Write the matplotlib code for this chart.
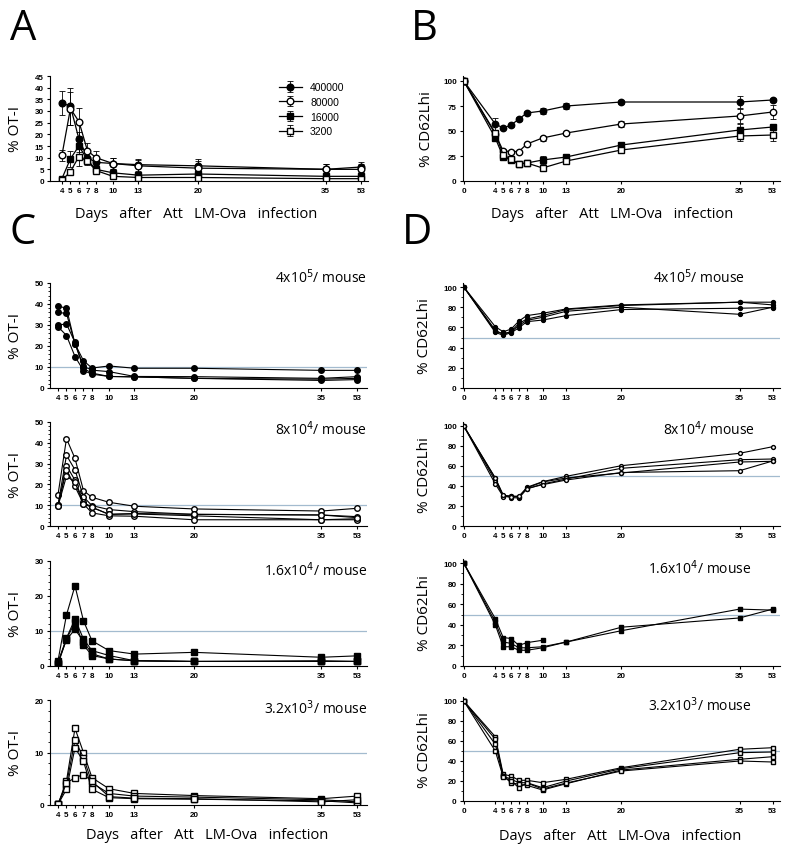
import numpy as np
import matplotlib.pyplot as plt
from matplotlib.ticker import AutoMinorLocator

plt.rcParams['font.family'] = ['Liberation Sans', 'DejaVu Sans']
plt.rcParams['axes.linewidth'] = 0.8
plt.rcParams['xtick.major.size'] = 2.5
plt.rcParams['ytick.major.size'] = 2.5
plt.rcParams['xtick.major.pad'] = 2
plt.rcParams['ytick.major.pad'] = 2
plt.rcParams['xtick.major.width'] = 0.8
plt.rcParams['ytick.major.width'] = 0.8

soft = ['Open Sans', 'DejaVu Sans']

days = [4, 5, 6, 7, 8, 10, 13, 20, 35, 53]
days0 = [0, 4, 5, 6, 7, 8, 10, 13, 20, 35, 53]
doses = ['400000', '80000', '16000', '3200']

# panel A : % OT-I, mean and sem
a_400000 = [33.5, 32, 18, 10, 8, 7.5, 7, 6.5, 5, 6]
a_400000_err = [5, 8, 3, 2, 2, 2.5, 2.5, 3, 2.5, 2]
a_80000 = [11, 31, 25.5, 13, 10, 7.5, 6.5, 5.5, 5, 5]
a_80000_err = [2.5, 7, 6, 3.5, 3, 2.5, 2.5, 3, 2.5, 2.5]
a_16000 = [1, 9.5, 15, 9, 5, 3.5, 2.5, 3, 2, 2]
a_16000_err = [0.5, 3.5, 2.5, 1.5, 1, 1, 1, 1, 1, 1]
a_3200 = [0.3, 4, 10.5, 8.5, 4.5, 2, 1.5, 1.5, 1, 1]
a_3200_err = [0.3, 1, 4, 1.5, 1, 1, 0.8, 0.8, 0.5, 0.5]

# panel B : % CD62L hi, mean and sem
b_400000 = [100, 57, 53, 56, 62, 68, 70, 75, 79, 79, 81]
b_400000_err = [0, 6, 1, 1.5, 2, 2, 3, 3, 2, 6, 2]
b_80000 = [100, 47, 30, 29.5, 29.5, 37, 43, 48, 57, 65, 69]
b_80000_err = [0, 3, 2, 1, 1, 1, 2.5, 1.5, 3, 7, 7]
b_16000 = [100, 43, 24, 21, 17, 18, 21, 24, 36, 51, 54]
b_16000_err = [0, 3, 3, 2, 2, 2, 4, 2, 2, 6, 2]
b_3200 = [100, 48, 26, 22, 17, 18, 13, 20, 31, 45, 46]
b_3200_err = [0, 3, 3, 2, 2, 2, 3, 2, 2, 5, 6]

# panel C : individual mice, % OT-I
c_4e5 = [[39, 38, 21, 13, 9.5, 10.5, 9.4, 9.4, 8.4, 8.4],
         [36, 35.5, 21, 10.3, 8.5, 7.8, 5.5, 5.4, 4.6, 5.4],
         [30, 30.5, 21.7, 9.3, 7.1, 5.5, 5.3, 4.6, 3.6, 4.0],
         [29.2, 25, 15, 8.3, 6.6, 5.5, 5.3, 4.6, 4.2, 4.6]]
c_8e4 = [[15, 42, 32.5, 17, 13.8, 11.4, 9.5, 8.2, 7.2, 8.5],
         [10, 34, 27, 14, 9.8, 7.9, 6.9, 5.6, 5.3, 4.5],
         [9.5, 29, 22, 11.4, 9, 5.6, 5.8, 4.9, 3.0, 3.5],
         [10, 27, 19, 10.6, 6.3, 4.9, 4.7, 3.0, 3.0, 3.0],
         [9.5, 24, 21, 10.6, 9, 5.6, 6, 5.6, 5.3, 4]]
c_16e3 = [[1.5, 14.6, 22.9, 12.9, 7.2, 4.4, 3.4, 3.9, 2.5, 2.9],
          [1, 8, 13.4, 7.7, 4.4, 3, 1.5, 1.3, 1.3, 1.3],
          [0.5, 7.7, 12.5, 6, 3, 2, 1.5, 1.3, 1.5, 1.3],
          [1, 7.5, 10.5, 7, 3.5, 2, 1.5, 1.3, 1.3, 1.3]]
c_32e2 = [[0.1, 4.6, 14.6, 10, 5.2, 3.1, 2.2, 1.8, 1.2, 1.7],
          [0.1, 3.9, 12.4, 9, 4.2, 2.2, 1.7, 1.5, 1.0, 0.6],
          [0.1, 3.0, 10.9, 8.3, 3.0, 1.4, 1.2, 1.1, 0.8, 0.4],
          [0.1, 4.2, 5.2, 5.8, 4.5, 1.6, 1.3, 1.2, 0.6, 1.0]]

# panel D : individual mice, % CD62L hi
d_4e5 = [[100, 60.7, 55.7, 58.3, 66.3, 71.7, 74, 78.3, 82.3, 85, 85],
         [100, 57.3, 53, 56, 64, 68.3, 71.7, 77.7, 81.7, 85, 82.3],
         [100, 55, 52.3, 54.7, 59.7, 65.7, 67.3, 71.7, 77.7, 79, 79.7],
         [100, 56, 54, 55.5, 62, 67, 70, 76, 80, 73, 80]]
d_8e4 = [[100, 47.7, 30.5, 30, 29, 38.7, 44.3, 49.7, 60.3, 72.7, 79.3],
         [100, 45.3, 30, 28.5, 28, 37, 42, 47, 57.7, 66.3, 67],
         [100, 42, 29.5, 30, 29.5, 38, 44, 48, 53, 64, 64.7],
         [100, 48, 31, 29, 30, 37.5, 41.3, 46, 53.5, 55.3, 65]]
d_16e3 = [[100, 46, 27.7, 26.7, 20, 22.7, 25, np.nan, np.nan, np.nan, np.nan],
          [100, 42.7, 23.3, 22, 17.7, 17.7, 18.7, 23.3, 37.7, 46.7, 55.3],
          [100, 40, 18.7, 18.7, 15.3, 15.3, 17.7, 23.3, 34.3, 55.3, 54.3]]
d_32e2 = [[100, 64.3, 26.7, 25, 20.7, 20.7, 18.3, 21.7, 33.3, 51.7, 53.3],
          [100, 61.7, 25, 21.7, 18.3, 18.3, 13.3, 20, 32.3, 48.3, 49],
          [100, 56.7, 25, 18.3, 16.7, 15.7, 11, 17.3, 31, 41.7, 44.3],
          [100, 50, 24, 20, 13.3, 18, 12, 18, 30, 40, 39]]

c_labels = ['4x10$^5$/ mouse', '8x10$^4$/ mouse', '1.6x10$^4$/ mouse', '3.2x10$^3$/ mouse']
c_ylims = [50, 50, 30, 20]
c_yticks = [[0, 10, 20, 30, 40, 50], [0, 10, 20, 30, 40, 50], [0, 10, 20, 30], [0, 10, 20]]


# time axis is linear up to day 35 and squeezed after
def fwd(x):
    x = np.asarray(x, float)
    return np.where(x <= 35, x, 35 + (x - 35) * 0.233)


def inv(y):
    y = np.asarray(y, float)
    return np.where(y <= 35, y, 35 + (y - 35) / 0.233)


def style(ax, xt, xlim, ylim, yt, ylab, lx):
    ax.set_xscale('function', functions=(fwd, inv))
    ax.set_xlim(xlim)
    ax.set_ylim(ylim)
    ax.set_xticks(xt)
    ax.set_xticklabels([str(d) for d in xt])
    ax.set_yticks(yt)
    ax.xaxis.set_minor_locator(plt.NullLocator())
    for s in ['top', 'right']:
        ax.spines[s].set_visible(False)
    for lab in ax.get_xticklabels() + ax.get_yticklabels():
        lab.set_fontweight('bold')
        lab.set_fontsize(5.8)
    ax.set_ylabel(ylab, family=soft, fontsize=11, va='center')
    ax.yaxis.set_label_coords(lx, 0.5)


W, H = 800, 854
fig = plt.figure(figsize=(8, 8.54), dpi=100)


def box(left, right, top, bottom):
    return [left / W, 1 - bottom / H, (right - left) / W, (bottom - top) / H]


mk = [dict(marker='o', mfc='black'), dict(marker='o', mfc='white'),
      dict(marker='s', mfc='black'), dict(marker='s', mfc='white')]
grid_col = '#a3bbcf'

# ---- A
ax = fig.add_axes(box(50, 368, 77, 182))
a_means = [a_400000, a_80000, a_16000, a_3200]
a_errs = [a_400000_err, a_80000_err, a_16000_err, a_3200_err]
for i in range(4):
    ax.errorbar(days, a_means[i], yerr=a_errs[i], color='black', mec='black', ms=4.8,
                lw=0.9, elinewidth=0.6, capsize=2.2, capthick=0.6, label=doses[i], **mk[i])
style(ax, days, (2.6, 56.4), (0, 45), range(0, 46, 5), '% OT-I', -0.11)
ax.legend(loc='upper left', bbox_to_anchor=(0.69, 1.03), frameon=False, fontsize=7.5,
          handlelength=2.2, labelspacing=0.45, handletextpad=0.8)

# ---- B
ax = fig.add_axes(box(463, 780, 77, 182))
b_means = [b_400000, b_80000, b_16000, b_3200]
b_errs = [b_400000_err, b_80000_err, b_16000_err, b_3200_err]
for i in range(4):
    ax.errorbar(days0, b_means[i], yerr=b_errs[i], color='black', mec='black', ms=4.6,
                lw=0.9, elinewidth=0.6, capsize=2.2, capthick=0.6, **mk[i])
style(ax, days0, (-0.1, 57), (0, 105), [0, 25, 50, 75, 100], '% CD62Lhi', -0.115)

# ---- C
c_data = [c_4e5, c_8e4, c_16e3, c_32e2]
c_rows = [(284, 389), (423, 527), (562, 667), (701, 806)]
c_txt_y = [1.06, 0.94, 0.92, 0.93]
for i in range(4):
    ax = fig.add_axes(box(50, 367, c_rows[i][0], c_rows[i][1]))
    ax.axhline(10, color=grid_col, lw=0.9, zorder=0)
    for m in c_data[i]:
        ax.plot(days, m, color='black', mec='black', ms=4, lw=0.8, **mk[i])
    style(ax, days, (3.06, 58), (0, c_ylims[i]), c_yticks[i], '% OT-I', -0.11)
    ax.yaxis.set_minor_locator(AutoMinorLocator(5))
    ax.tick_params(axis='y', which='minor', length=1.5, width=0.6)
    ax.text(1.0, c_txt_y[i], c_labels[i], transform=ax.transAxes, ha='right', va='center',
            family=soft, fontsize=10)

# ---- D
d_data = [d_4e5, d_8e4, d_16e3, d_32e2]
d_rows = [(284, 389), (423, 527), (560, 667), (698, 802)]
d_txt_x = [0.89, 0.92, 0.91, 0.91]
for i in range(4):
    ax = fig.add_axes(box(463, 780, d_rows[i][0], d_rows[i][1]))
    ax.axhline(50, color=grid_col, lw=0.9, zorder=0)
    for m in d_data[i]:
        ax.plot(days0, m, color='black', mec='black', ms=2.8, lw=0.8, **mk[i])
    style(ax, days0, (-0.1, 57), (0, 104), [0, 20, 40, 60, 80, 100], '% CD62Lhi', -0.12)
    ax.yaxis.set_minor_locator(AutoMinorLocator(2))
    ax.tick_params(axis='y', which='minor', length=1.5, width=0.6)
    ax.text(d_txt_x[i], c_txt_y[i], c_labels[i], transform=ax.transAxes, ha='right', va='center',
            family=soft, fontsize=10)

# panel letters and shared x labels
for lab, x, y in [('A', 10, 40), ('B', 411, 40), ('C', 10, 244), ('D', 402, 244)]:
    fig.text(x / W, 1 - y / H, lab, family=soft, fontsize=30, va='baseline', ha='left')

xlab = 'Days   after   Att   LM-Ova   infection'
for x, y in [(196, 214), (612, 215), (207, 836), (620, 837)]:
    fig.text(x / W, 1 - y / H, xlab, family=soft, fontsize=10.5, ha='center', va='center')

fig.savefig('out.png', dpi=100)
